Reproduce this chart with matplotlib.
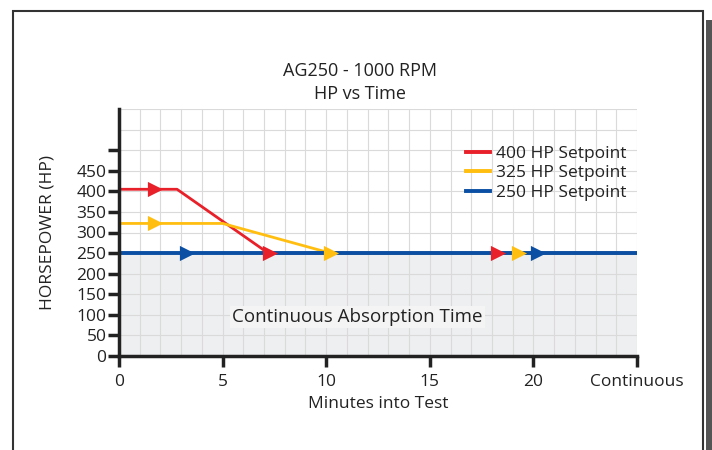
import matplotlib
matplotlib.use("Agg")
import matplotlib.pyplot as plt
from matplotlib.patches import Rectangle
import numpy as np

plt.rcParams['font.family'] = ['Open Sans', 'DejaVu Sans']

# setpoint traces (minutes, HP)
x_400 = [0, 2.8, 7.2, 25]
y_400 = [405, 405, 250, 250]
x_325 = [0, 5.0, 10.2, 25]
y_325 = [322, 322, 250, 250]
x_250 = [0, 25]
y_250 = [250, 250]

# arrow marker positions (minutes, HP)
arr_400_x = [1.75, 7.3, 18.3]
arr_400_y = [405, 250, 250]
arr_325_x = [1.75, 10.25, 19.3]
arr_325_y = [322, 250, 250]
arr_250_x = [3.3, 20.2]
arr_250_y = [250, 250]

labels = ["400 HP Setpoint", "325 HP Setpoint", "250 HP Setpoint"]
colors = ["#e8202a", "#ffbe10", "#0a4fa3"]

x_ticks = [0, 5, 10, 15, 20, 25]
x_ticklabels = ["0", "5", "10", "15", "20", "Continuous"]
y_ticks = [0, 50, 100, 150, 200, 250, 300, 350, 400, 450, 500]
y_ticklabels = ["0", "50", "100", "150", "200", "250", "300", "350", "400", "450", ""]

txt = "#222222"
fs = 12.5

fig = plt.figure(figsize=(7.12, 4.5), dpi=100)

# page frame with shadow
fig.patches.append(Rectangle((706 / 712, -0.05), 6 / 712, 1 - 20 / 450 + 0.05, transform=fig.transFigure,
                             facecolor="#555555", edgecolor="none", zorder=0))
fig.patches.append(Rectangle((13 / 712, -0.05), (703 - 13) / 712, 1 - 11 / 450 + 0.05,
                             transform=fig.transFigure, facecolor="white",
                             edgecolor="#333333", linewidth=1.5, zorder=1))

ax = fig.add_axes([119 / 712, 1 - 356 / 450, (637 - 119) / 712, (356 - 109) / 450])
ax.set_zorder(5)
ax.patch.set_alpha(0)

ax.set_xlim(0, 25)
ax.set_ylim(0, 600)

# continuous region
ax.axhspan(0, 250, color="#eeeff1", zorder=0)

# grid
for gx in range(1, 26):
    ax.axvline(gx, color="#dadada", linewidth=0.8, zorder=1)
for gy in range(50, 601, 50):
    ax.axhline(gy, color="#dadada", linewidth=0.8, zorder=1)

ax.plot(x_400, y_400, color=colors[0], linewidth=2.0, zorder=3, label=labels[0])
ax.plot(x_325, y_325, color=colors[1], linewidth=2.0, zorder=3, label=labels[1])
ax.plot(x_250, y_250, color=colors[2], linewidth=2.8, zorder=4, label=labels[2])

ax.scatter(arr_400_x, arr_400_y, marker=">", s=120, color=colors[0], zorder=5, linewidths=0)
ax.scatter(arr_325_x, arr_325_y, marker=">", s=120, color=colors[1], zorder=5, linewidths=0)
ax.scatter(arr_250_x, arr_250_y, marker=">", s=120, color=colors[2], zorder=5, linewidths=0)

ax.text(11.5, 95, "Continuous Absorption Time", ha="center", va="center", fontsize=13.5,
        color=txt, zorder=6,
        bbox=dict(facecolor="#f4f4f5", edgecolor="none", pad=1.5))

ax.set_xticks(x_ticks)
ax.set_xticklabels(x_ticklabels, fontsize=fs, color=txt)
ax.set_yticks(y_ticks)
ax.set_yticklabels(y_ticklabels, fontsize=fs, color=txt)
ax.tick_params(direction="out", length=8, width=2.5, color=txt, pad=5)
ax.tick_params(axis="y", pad=1)

for s in ["top", "right"]:
    ax.spines[s].set_visible(False)
for s in ["left", "bottom"]:
    ax.spines[s].set_linewidth(2.5)
    ax.spines[s].set_color(txt)
    ax.spines[s].set_zorder(7)

ax.set_xlabel("Minutes into Test", fontsize=fs, color=txt, labelpad=4)
ax.set_ylabel("HORSEPOWER (HP)", fontsize=fs, color=txt, labelpad=15)

fig.text(0.505, 1 - 71 / 450, "AG250 - 1000 RPM", ha="center", va="center", fontsize=13,
         color=txt, zorder=6)
fig.text(0.505, 1 - 94 / 450, "HP vs Time", ha="center", va="center", fontsize=13,
         color=txt, zorder=6)

leg = ax.legend(loc="upper right", bbox_to_anchor=(0.993, 0.88), frameon=False, fontsize=fs,
                handlelength=1.4, handletextpad=0.35, labelspacing=0.2, borderaxespad=0)
for t in leg.get_texts():
    t.set_color(txt)
for h in leg.get_lines():
    h.set_linewidth(2.8)

fig.savefig("out.png", dpi=100)
